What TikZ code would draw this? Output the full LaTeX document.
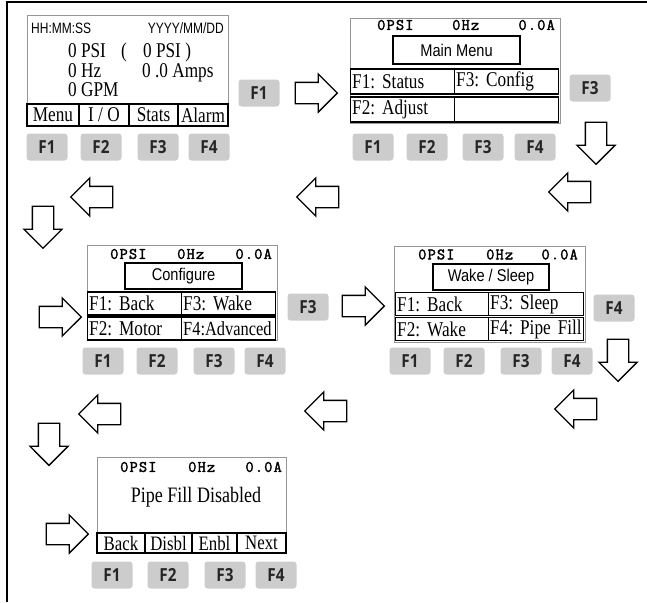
\documentclass[tikz,border=0pt]{standalone}
\usepackage{fontspec}
\setmainfont{Liberation Serif}
\newfontfamily\lcdserif[FakeStretch=0.82]{Liberation Serif}
\newfontfamily\lcdsans[FakeStretch=0.86]{Liberation Sans}
\newfontfamily\lcdnarrow[FakeStretch=0.8]{Liberation Sans}
\newfontfamily\lcdmono[FakeBold=2,LetterSpace=7]{Latin Modern Mono}
\newfontfamily\keysans[FakeStretch=0.85]{Open Sans}
\usetikzlibrary{shapes.arrows}
\definecolor{keyGray}{RGB}{204,204,204}
\definecolor{keyText}{RGB}{38,38,38}
\definecolor{lcdEdge}{RGB}{150,150,150}
\frenchspacing

\begin{document}
\begin{tikzpicture}[x=1pt,y=-1pt,
      scr/.style={draw=lcdEdge,line width=0.8pt,inner sep=0},
      ttl/.style={draw,line width=2pt,inner sep=0,font=\lcdsans\fontsize{17}{17}\selectfont},
      cell/.style={draw,line width=1.4pt,inner xsep=1.5pt,inner ysep=0,anchor=west,
                   font=\lcdserif\fontsize{21}{21}\selectfont},
      tab/.style={draw,line width=1.4pt,inner sep=0,font=\lcdserif\fontsize{21}{21}\selectfont},
      hdr/.style={inner sep=0,font=\lcdmono\fontsize{16}{16}\selectfont},
      txt/.style={inner sep=0,font=\lcdserif\fontsize{21}{21}\selectfont},
      stamp/.style={inner sep=0,font=\lcdnarrow\fontsize{15}{15}\selectfont},
      fkey/.style={fill=keyGray,rounded corners=3pt,minimum width=41pt,minimum height=27pt,inner sep=0,
                   text=keyText,font=\keysans\bfseries\fontsize{18}{18}\selectfont},
      barrow/.style={single arrow,draw,line width=1.3pt,fill=white,minimum height=42pt,inner sep=10pt,
                     single arrow head extend=8.5pt},
      rgt/.style={barrow},
      lft/.style={barrow,shape border rotate=180},
      dwn/.style={barrow,shape border rotate=270}]
    \useasboundingbox (0,0) rectangle (647,602);
    \draw[line width=2pt] (7,602) -- (7,2) -- (647,2);

    % status screen
    \node[scr,minimum width=201pt,minimum height=111pt] (stat) at (127.5,70.5) {};
    \node[stamp,anchor=west] (statClk) at (31,28) {HH:MM:SS};
    \node[stamp,anchor=east] (statDate) at (224,28) {YYYY/MM/DD};
    \node[txt,anchor=base west] (statP) at (68,57) {0 PSI};
    \node[txt,anchor=base west] (statPar) at (121,57) {(};
    \node[txt,anchor=base west] (statSp) at (143,57) {0 PSI )};
    \node[txt,anchor=base west] (statHz) at (68,77) {0 Hz};
    \node[txt,anchor=base west] (statA) at (142,77) {0 .0 Amps};
    \node[txt,anchor=base west] (statQ) at (68,96) {0 GPM};
    \node[tab,minimum width=52pt,minimum height=22pt] (statT1) at (53,115) {Menu};
    \node[tab,minimum width=50pt,minimum height=22pt] (statT2) at (104,115) {I / O};
    \node[tab,minimum width=49pt,minimum height=22pt] (statT3) at (153.5,115) {Stats};
    \node[tab,minimum width=50pt,minimum height=22pt] (statT4) at (203,115) {Alarm};
    \node[fkey] (statF1) at (47,147) {F1};
    \node[fkey] (statF2) at (101,147) {F2};
    \node[fkey] (statF3) at (158,147) {F3};
    \node[fkey] (statF4) at (209,147) {F4};

    \node[fkey] (goF1) at (259,93) {F1};
    \node[rgt] (toMain) at (311,93) {};

    % main menu
    \node[scr,minimum width=210pt,minimum height=105pt] (mainm) at (455,70.5) {};
    \node[hdr,anchor=west] (mainP) at (377,25) {0PSI};
    \node[hdr,anchor=west] (mainHz) at (452,25) {0Hz};
    \node[hdr,anchor=east] (mainA) at (555,25) {0.0A};
    \node[ttl,minimum width=127pt,minimum height=28pt] (mainT) at (456.5,50) {Main Menu};
    \node[cell,text width=101pt,minimum height=25pt] (mainC1) at (350,81.5) {F1: Status};
    \node[cell,text width=101pt,minimum height=25pt] (mainC3) at (454,81.5) {F3: Config};
    \node[cell,text width=101pt,minimum height=25pt] (mainC2) at (350,109.5) {F2: Adjust};
    \node[cell,text width=101pt,minimum height=25pt] (mainC4) at (454,109.5) {};
    \node[fkey] (mainF1) at (373,147) {F1};
    \node[fkey] (mainF2) at (427,147) {F2};
    \node[fkey] (mainF3) at (483,147) {F3};
    \node[fkey] (mainF4) at (535,147) {F4};

    \node[fkey] (goF3) at (590,88) {F3};
    \node[dwn] (downA) at (596,138) {};
    \node[lft] (backA) at (575,192) {};
    \node[lft] (backB) at (323,197) {};
    \node[lft] (backC) at (97,197) {};
    \node[dwn] (downB) at (43,222) {};
    \node[rgt] (toConf) at (55,317) {};

    % configure
    \node[scr,minimum width=190pt,minimum height=95pt] (conf) at (182,292.5) {};
    \node[hdr,anchor=west] (confP) at (110,254) {0PSI};
    \node[hdr,anchor=west] (confHz) at (177,254) {0Hz};
    \node[hdr,anchor=east] (confA) at (272,254) {0.0A};
    \node[ttl,minimum width=117pt,minimum height=26pt] (confT) at (183.5,276) {Configure};
    \node[cell,text width=91pt,minimum height=23pt] (confC1) at (87,303.5) {F1: Back};
    \node[cell,text width=91pt,minimum height=23pt] (confC3) at (181,303.5) {F3: Wake};
    \node[cell,text width=91pt,minimum height=23pt] (confC2) at (87,328.5) {F2: Motor};
    \node[cell,text width=91pt,minimum height=23pt,font=\lcdserif\fontsize{20}{20}\selectfont] (confC4) at (181,328.5) {F4:Advanced};
    \node[fkey] (confF1) at (103,361) {F1};
    \node[fkey] (confF2) at (157,361) {F2};
    \node[fkey] (confF3) at (214,361) {F3};
    \node[fkey] (confF4) at (265,361) {F4};

    \node[fkey] (goWake) at (308,307) {F3};
    \node[rgt] (toWake) at (358,306) {};

    % wake / sleep
    \node[scr,minimum width=191pt,minimum height=96pt] (wake) at (489.5,294) {};
    \node[hdr,anchor=west] (wakeP) at (418,254.5) {0PSI};
    \node[hdr,anchor=west] (wakeHz) at (486,254.5) {0Hz};
    \node[hdr,anchor=east] (wakeA) at (578,254.5) {0.0A};
    \node[ttl,minimum width=116pt,minimum height=26pt] (wakeT) at (491,277) {Wake / Sleep};
    \node[cell,text width=90pt,minimum height=23pt] (wakeC1) at (395,304) {F1: Back};
    \node[cell,text width=92pt,minimum height=23pt] (wakeC3) at (488,304) {F3: Sleep};
    \node[cell,text width=90pt,minimum height=23pt] (wakeC2) at (395,329) {F2: Wake};
    \node[cell,text width=92pt,minimum height=23pt] (wakeC4) at (488,329) {F4: Pipe Fill};
    \node[fkey] (wakeF1) at (410,361) {F1};
    \node[fkey] (wakeF2) at (464,361) {F2};
    \node[fkey] (wakeF3) at (521,361) {F3};
    \node[fkey] (wakeF4) at (572,361) {F4};

    \node[fkey] (goFill) at (614,308) {F4};
    \node[dwn] (downC) at (618,355) {};
    \node[lft] (backD) at (581,409) {};
    \node[lft] (backE) at (331,411) {};
    \node[lft] (backF) at (105,414) {};
    \node[dwn] (downD) at (49,439) {};
    \node[rgt] (toFill) at (62,534) {};

    % pipe fill
    \node[scr,minimum width=189pt,minimum height=96pt] (pfill) at (191.5,505) {};
    \node[hdr,anchor=west] (fillP) at (120,467) {0PSI};
    \node[hdr,anchor=west] (fillHz) at (188,467) {0Hz};
    \node[hdr,anchor=east] (fillA) at (282,467) {0.0A};
    \node[txt,font=\lcdserif\fontsize{22}{22}\selectfont] (fillMsg) at (196,497) {Pipe Fill Disabled};
    \node[tab,minimum width=48pt,minimum height=20pt,font=\lcdserif\fontsize{20.5}{20.5}\selectfont] (fillT1) at (121,543) {Back};
    \node[tab,minimum width=47pt,minimum height=20pt,font=\lcdserif\fontsize{20.5}{20.5}\selectfont] (fillT2) at (168.5,543) {Disbl};
    \node[tab,minimum width=45pt,minimum height=20pt,font=\lcdserif\fontsize{20.5}{20.5}\selectfont] (fillT3) at (214.5,543) {Enbl};
    \node[tab,minimum width=49pt,minimum height=20pt,font=\lcdserif\fontsize{20.5}{20.5}\selectfont] (fillT4) at (261.5,543) {Next};
    \node[fkey] (fillF1) at (112,575) {F1};
    \node[fkey] (fillF2) at (168,575) {F2};
    \node[fkey] (fillF3) at (225,575) {F3};
    \node[fkey] (fillF4) at (276,575) {F4};
  \end{tikzpicture}
\end{document}
